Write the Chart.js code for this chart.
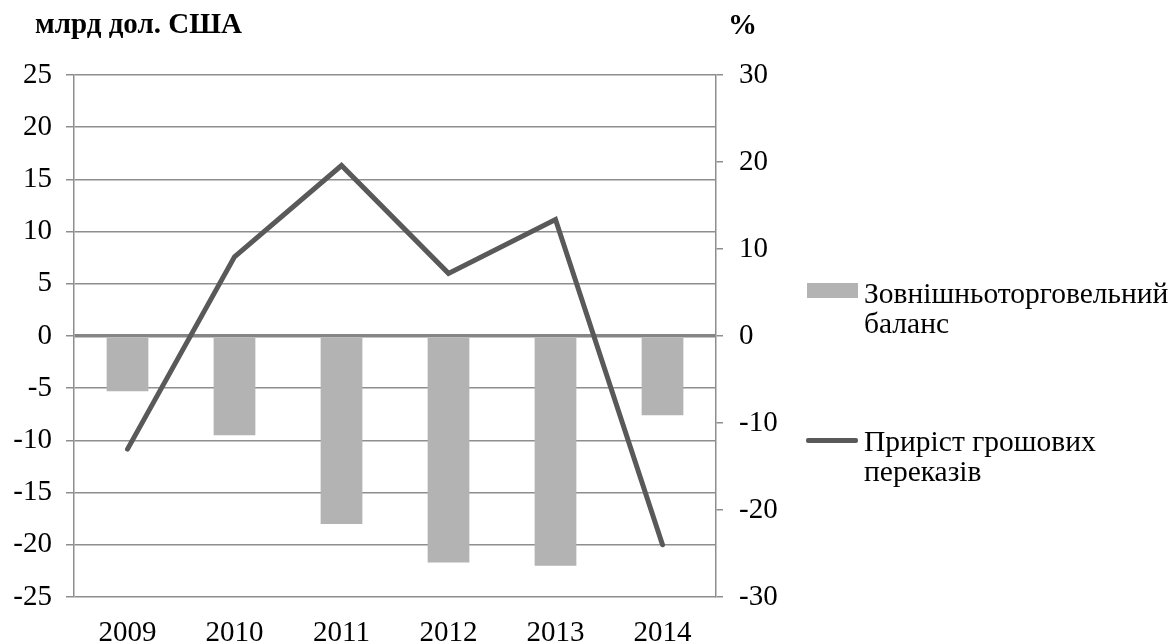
<!DOCTYPE html>
<html><head><meta charset="utf-8">
<script src="https://cdn.jsdelivr.net/npm/chart.js@4"></script>
<style>
body{margin:0;background:#fff;width:1172px;height:642px;overflow:hidden;position:relative;font-family:"Liberation Serif","Times New Roman",serif;}
#wrap{position:absolute;left:0;top:0;width:1172px;height:642px;}
.t{position:absolute;white-space:nowrap;color:#000;line-height:30px;}
.sw{position:absolute;}
</style></head><body>
<div id="wrap"><canvas id="c" width="1172" height="642"></canvas></div>
<div class="t" style="left:35px;top:8px;font-weight:bold;font-size:29px;">млрд дол. США</div>
<div class="t" style="left:728px;top:9px;font-weight:bold;font-size:29px;">%</div>
<div class="sw" style="left:807px;top:283px;width:51px;height:15px;background:#b3b3b3;"></div>
<div class="t" id="l1" style="left:864px;top:278px;font-size:29.5px;"></div>
<div class="sw" style="left:806px;top:438px;width:52px;height:4.5px;background:#595959;border-radius:2px;"></div>
<div class="t" id="l2" style="left:864px;top:426px;font-size:29.5px;"></div>
<script>
const categories = ['2009','2010','2011','2012','2013','2014'];
const tradeBalance = [-5.3, -9.5, -18, -21.7, -22, -7.6];
const remittanceGrowth = [-13, 9.1, 19.6, 7.2, 13.4, -24];
const seriesNames = ['Зовнішньоторговельний баланс', 'Приріст грошових переказів'];
const seriesNameLines = [['Зовнішньоторговельний','баланс'], ['Приріст грошових','переказів']];

document.getElementById('l1').innerHTML = seriesNameLines[0].join('<br>');
document.getElementById('l2').innerHTML = seriesNameLines[1].join('<br>');

const FONT = {family: '"Liberation Serif","Times New Roman",serif', size: 29};
const GRID = '#8e8e8e';

new Chart(document.getElementById('c'), {
  data: {
    labels: categories,
    datasets: [
      {type:'line', label: seriesNames[1], data: remittanceGrowth, yAxisID:'y1',
       borderColor:'#595959', borderWidth:5, pointRadius:0, tension:0, order:0,
       borderCapStyle:'round', borderJoinStyle:'miter'},
      {type:'bar', label: seriesNames[0], data: tradeBalance, yAxisID:'y',
       backgroundColor:'#b3b3b3', categoryPercentage:1, barPercentage:0.39, order:1}
    ]
  },
  options: {
    responsive:false, animation:false, devicePixelRatio:1,
    layout:{padding:{top:75,right:386,bottom:0,left:0}},
    plugins:{legend:{display:false}, tooltip:{enabled:false}},
    scales:{
      x:{type:'category', offset:true,
         grid:{display:false}, border:{display:false},
         ticks:{font:FONT, color:'#000', padding:11, maxRotation:0},
         afterFit:s=>{s.height=45;}},
      y:{position:'left', min:-25, max:25,
         ticks:{stepSize:5, font:FONT, color:'#000', padding:14},
         grid:{color:c=>c.tick && c.tick.value===0 ? '#858585' : GRID,
               lineWidth:c=>c.tick && c.tick.value===0 ? 3.5 : 1.5,
               tickLength:8, tickColor:GRID, tickWidth:1.5},
         border:{display:true, color:GRID, width:1.5},
         afterFit:s=>{s.width=74;}},
      y1:{position:'right', min:-30, max:30,
         ticks:{stepSize:10, font:FONT, color:'#000', padding:16},
         grid:{drawOnChartArea:false, tickLength:7, color:GRID, lineWidth:1.5},
         border:{display:true, color:GRID, width:1.5},
         afterFit:s=>{s.width=70;}}
    }
  }
});
</script>
</body></html>
